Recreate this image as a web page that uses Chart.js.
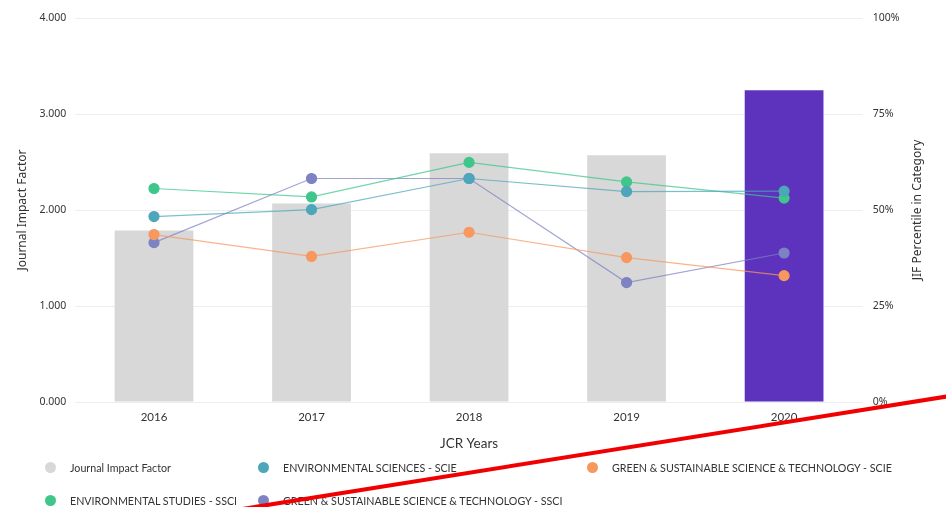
<!DOCTYPE html>
<html>
<head>
<meta charset="utf-8">
<script src="https://cdn.jsdelivr.net/npm/chart.js@4/dist/chart.umd.min.js"></script>
<style>
  html, body { margin: 0; padding: 0; background: #fff; }
  body { width: 946px; height: 507px; position: relative; overflow: hidden; }
  #chartBox { position: absolute; left: 0; top: 0; width: 946px; height: 460px; }
  #legend {
    position: absolute; left: 45px; top: 458px;
    display: grid; grid-template-columns: 213px 329px auto; row-gap: 15px;
    font-family: "Lato", sans-serif; font-size: 10.7px; color: #333;
  }
  #legend div { display: flex; align-items: center; height: 18px; white-space: nowrap; }
  #legend span.dot { width: 11px; height: 11px; border-radius: 50%; margin-right: 14px; flex: none; }
  #mark { position: absolute; left: 0; top: 0; pointer-events: none; }
</style>
</head>
<body>
<div id="chartBox"><canvas id="jifChart"></canvas></div>
<div id="legend"></div>
<svg id="mark" width="946" height="507"><line x1="236" y1="510" x2="950" y2="396" stroke="#f00000" stroke-width="4"/></svg>
<script>
// Data -------------------------------
var years = ["2016", "2017", "2018", "2019", "2020"];
var impactFactor = [1.786, 2.068, 2.590, 2.571, 3.248];

var envSciencesScie = [48.3, 50.1, 58.2, 54.8, 54.9];
var greenScie = [43.6, 37.9, 44.2, 37.6, 32.9];
var envStudiesSsci = [55.6, 53.4, 62.4, 57.3, 53.1];
var greenSsci = [41.5, 58.2, 58.2, 31.1, 38.8];

var seriesNames = ["Journal Impact Factor",
                   "ENVIRONMENTAL SCIENCES - SCIE",
                   "GREEN & SUSTAINABLE SCIENCE & TECHNOLOGY - SCIE",
                   "ENVIRONMENTAL STUDIES - SSCI",
                   "GREEN & SUSTAINABLE SCIENCE & TECHNOLOGY - SSCI"];
var seriesColors = ["#d8d8d8", "#4ea6ba", "#f7985f", "#3fc68b", "#7d82c3"];

var rightTitle = "JIF Percentile in Category";

// Last year highlighted
var barColors = years.map(function (y, i) { return i === years.length - 1 ? "#5d33bd" : "#d8d8d8"; });

function lineSet(idx, values) {
    return {
        type: 'line',
        label: seriesNames[idx],
        data: values,
        yAxisID: 'yPct',
        borderColor: seriesColors[idx] + "bb",
        backgroundColor: seriesColors[idx],
        pointBackgroundColor: seriesColors[idx],
        pointBorderColor: seriesColors[idx],
        borderWidth: 1.2,
        pointRadius: 5,
        tension: 0,
        order: 0
    };
}

// Right axis title reads bottom-to-top, like the left one
var rightTitlePlugin = {
    id: 'rightTitle',
    afterDraw: function (chart) {
        var s = chart.scales.yPct;
        var c = chart.ctx;
        c.save();
        c.translate(s.right - 12, (s.top + s.bottom) / 2);
        c.rotate(-Math.PI / 2);
        c.fillStyle = "#333";
        c.font = "12px 'Noto Sans'";
        c.textAlign = "center";
        c.textBaseline = "middle";
        c.fillText(rightTitle, 0, 0);
        c.restore();
    }
};

var ctx = document.getElementById("jifChart").getContext("2d");

var myChart = new Chart(ctx, {
    type: 'bar',
    data: {
        labels: years,
        datasets: [
            {
                label: seriesNames[0],
                data: impactFactor,
                yAxisID: 'yJif',
                backgroundColor: barColors,
                borderWidth: 0,
                barPercentage: 0.5,
                categoryPercentage: 1,
                order: 1
            },
            lineSet(1, envSciencesScie),
            lineSet(2, greenScie),
            lineSet(3, envStudiesSsci),
            lineSet(4, greenSsci)
        ]
    },
    plugins: [rightTitlePlugin],
    options: {
        responsive: true,
        maintainAspectRatio: false,
        animation: false,
        layout: { padding: { left: 11, right: 16, top: 18, bottom: 4 } },
        plugins: {
            legend: { display: false },
            tooltip: { enabled: false }
        },
        scales: {
            x: {
                grid: { display: false },
                border: { display: false },
                ticks: { color: "#333", padding: 0, font: { family: "Lato", size: 11.5 } },
                title: { display: true, text: "JCR Years", color: "#333", padding: { top: 12 },
                         font: { family: "Lato", size: 13.5 } }
            },
            yJif: {
                position: 'left',
                min: 0, max: 4,
                ticks: { stepSize: 1, color: "#333", padding: 9, font: { family: "Noto Sans", size: 10.5 },
                         callback: function (v) { return v.toFixed(3); } },
                grid: { color: "#eeeeee", drawTicks: false },
                border: { display: false },
                title: { display: true, text: "Journal Impact Factor", color: "#333", padding: { top: 4, bottom: 1 },
                         font: { family: "Noto Sans", size: 12 } }
            },
            yPct: {
                position: 'right',
                min: 0, max: 100,
                ticks: { stepSize: 25, color: "#333", padding: 10, font: { family: "Noto Sans", size: 10.5 },
                         callback: function (v) { return v + "%"; } },
                grid: { display: false, drawTicks: false },
                border: { display: false },
                // space kept, text drawn by the plugin
                title: { display: true, text: rightTitle, color: "rgba(0,0,0,0)", padding: { top: 4, bottom: 2 },
                         font: { family: "Noto Sans", size: 12 } }
            }
        }
    }
});

// Legend built from the chart's datasets ----------
var legendBox = document.getElementById("legend");
myChart.data.datasets.forEach(function (ds, i) {
    var item = document.createElement("div");
    var dot = document.createElement("span");
    dot.className = "dot";
    dot.style.background = seriesColors[i];
    item.appendChild(dot);
    item.appendChild(document.createTextNode(ds.label));
    legendBox.appendChild(item);
});
</script>
</body>
</html>
